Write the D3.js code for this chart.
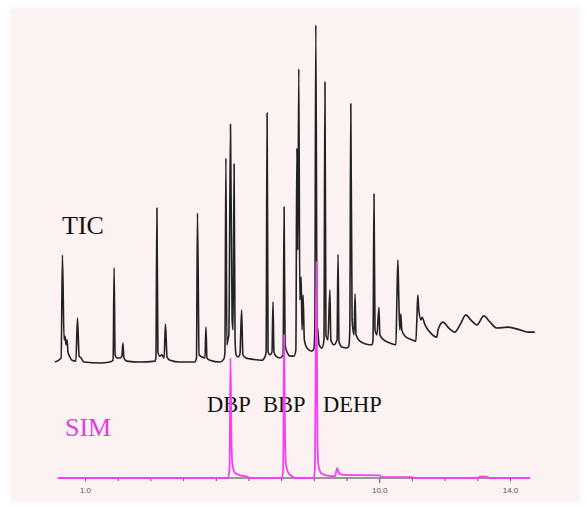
<!DOCTYPE html>
<html>
<head>
<meta charset="utf-8">
<script src="https://cdn.jsdelivr.net/npm/d3@7/dist/d3.min.js"></script>
<style>
  html, body { margin: 0; padding: 0; background: #fff; }
  svg { display: block; }
</style>
</head>
<body>
<script>
// retention time (min) / relative abundance (%)
const ticTime = [0.08,0.27,0.31,0.36,0.39,0.42,0.45,0.48,0.54,0.60,0.72,0.77,0.82,0.88,0.97,
  1.46,1.76,1.86,1.89,1.92,1.98,2.07,2.13,2.16,2.19,2.28,2.68,3.14,3.17,3.20,3.23,3.29,3.35,
  3.42,3.46,3.51,3.60,3.90,4.36,4.41,4.44,4.49,4.58,4.67,4.70,4.73,4.82,5.13,5.25,5.28,5.31,
  5.34,5.37,5.40,5.45,5.50,5.53,5.56,5.59,5.62,5.68,5.74,5.79,5.83,5.92,6.05,6.41,6.50,6.54,
  6.57,6.60,6.66,6.72,6.75,6.78,6.84,6.96,7.06,7.09,7.12,7.18,7.27,7.39,7.45,7.48,7.51,7.54,
  7.57,7.61,7.64,7.67,7.71,7.79,7.94,8.00,8.03,8.06,8.10,8.11,8.16,8.25,8.31,8.34,8.37,8.43,
  8.49,8.52,8.61,8.71,8.74,8.77,8.86,9.01,9.07,9.10,9.13,9.17,9.23,9.26,9.29,9.41,9.59,9.78,
  9.81,9.84,9.87,9.93,9.99,10.02,10.14,10.33,10.51,10.54,10.57,10.60,10.63,10.66,10.69,10.79,
  11.00,11.12,11.15,11.18,11.21,11.28,11.31,11.40,11.55,11.76,11.80,11.95,12.13,12.31,12.47,
  12.65,12.80,12.99,13.20,13.39,13.60,13.94,14.30,14.55,14.76];
const ticAbund = [25.6,26.5,49.2,30.5,31.3,29.4,30.5,27.8,26.7,26.0,25.8,35.3,26.9,26.5,25.6,
  25.4,25.6,26.0,46.4,27.2,26.5,26.5,26.9,29.8,26.5,25.8,25.6,25.8,26.7,59.6,27.8,26.9,27.2,
  26.5,34.0,26.7,26.0,25.6,25.6,26.5,58.5,27.2,26.7,26.5,33.3,26.5,26.0,25.6,26.3,27.8,70.6,
  29.4,30.5,31.6,78.1,34.9,32.7,69.3,30.5,27.2,26.7,27.4,37.1,27.2,26.5,26.3,26.0,26.7,27.8,
  80.6,27.8,27.2,27.8,38.9,27.8,26.9,26.5,27.2,59.8,29.4,27.8,26.9,26.9,28.3,72.8,50.3,90.3,
  39.3,44.4,32.7,40.4,30.5,28.7,28.0,28.5,32.7,100,32.7,33.3,29.4,28.7,30.5,87.4,31.6,30.5,
  41.5,30.5,29.4,30.5,49.4,30.0,28.9,28.7,29.1,32.7,82.6,34.9,31.6,40.6,31.6,30.2,29.6,29.4,
  30.5,62.7,32.7,31.6,37.7,31.6,30.5,29.8,29.4,39.3,48.1,39.3,32.7,36.2,32.7,31.3,
  30.5,30.2,34.9,40.4,37.1,34.9,35.5,33.8,32.2,31.1,32.7,34.4,33.1,32.2,33.8,
  36.0,34.9,33.8,35.8,34.4,33.1,33.3,32.7,32.2,32.2];

const simTime = [0.17,5.37,5.42,5.45,5.48,5.51,5.59,5.74,5.95,6.05,7.02,7.06,7.09,7.12,7.15,
  7.21,7.33,7.45,8.00,8.03,8.08,8.11,8.14,8.22,8.37,8.65,8.71,8.77,8.89,10.02,10.08,11.00,
  11.06,13.02,13.08,13.29,13.36,14.61];
const simAbund = [0,0,1.8,26.5,8.4,2.9,1.1,0.6,0.3,0,0,1.8,31.6,8.4,2.9,
  1.3,0.4,0,0,1.8,47.7,8.4,2.9,1.1,0.6,0.4,2.2,1.1,0.7,0.6,0.2,0.2,
  0,0,0.3,0.3,0,0];

const peakNames = ["DBP", "BBP", "DEHP"];
const traceNames = ["TIC", "SIM"];
const tickValues = d3.range(1, 15);
const tickLabels = { 1: "1.0", 10: "10.0", 14: "14.0" };

const width = 587, height = 506;

const svg = d3.select("body").append("svg")
    .attr("width", width)
    .attr("height", height);

const defs = svg.append("defs");
defs.append("filter").attr("id", "soft")
  .append("feGaussianBlur").attr("stdDeviation", 2.5);

// pale panel behind the plot
svg.append("rect")
    .attr("x", 10).attr("y", 8)
    .attr("width", 570).attr("height", 494)
    .attr("fill", "#fbf2f1")
    .attr("filter", "url(#soft)");

const x = d3.scaleLinear().domain([1, 14]).range([85, 510]);
const y = d3.scaleLinear().domain([0, 100]).range([478, 25]);

// axis line + ticks
const axisG = svg.append("g").attr("transform", `translate(0,${y(0)})`);
axisG.append("line")
    .attr("x1", x(0.17)).attr("x2", x(14.61))
    .attr("stroke", "#3a3a3a").attr("stroke-width", 1.2);
axisG.call(d3.axisBottom(x)
    .tickValues(tickValues)
    .tickSize(3)
    .tickFormat(d => tickLabels[d] || ""))
  .call(g => g.select(".domain").remove())
  .call(g => g.selectAll(".tick line")
      .attr("stroke", "#555")
      .attr("y2", d => d === 10 ? 5 : 3))
  .call(g => g.selectAll(".tick text")
      .attr("y", 9)
      .attr("fill", "#555")
      .style("font", "8px 'Liberation Sans', Arial, sans-serif"));

// labels
const serif = "'Liberation Serif', 'Times New Roman', serif";
svg.append("text").attr("x", 62).attr("y", 234)
    .attr("fill", "#111").style("font", `26px ${serif}`)
    .text(traceNames[0]);
svg.append("text").attr("x", 65).attr("y", 436)
    .attr("fill", "#e23ee2").style("font", `26px ${serif}`)
    .text(traceNames[1]);

const peakLabelX = [207, 263, 323];
peakNames.forEach((n, i) => {
  svg.append("text")
      .attr("x", peakLabelX[i]).attr("y", 412)
      .attr("fill", "#111").style("font", `22.5px ${serif}`)
      .text(n);
});

const line = d3.line()
    .x(d => x(d[0]))
    .y(d => y(d[1]))
    .curve(d3.curveMonotoneX);

const tic = d3.zip(ticTime, ticAbund);
const sim = d3.zip(simTime, simAbund);

svg.append("path")
    .datum(tic)
    .attr("d", line)
    .attr("fill", "none")
    .attr("stroke", "#222")
    .attr("stroke-width", 1.6)
    .attr("stroke-linejoin", "round");

svg.append("path")
    .datum(sim)
    .attr("d", line)
    .attr("fill", "none")
    .attr("stroke", "#f53ff5")
    .attr("stroke-width", 1.8)
    .attr("stroke-linejoin", "round");
</script>
</body>
</html>
